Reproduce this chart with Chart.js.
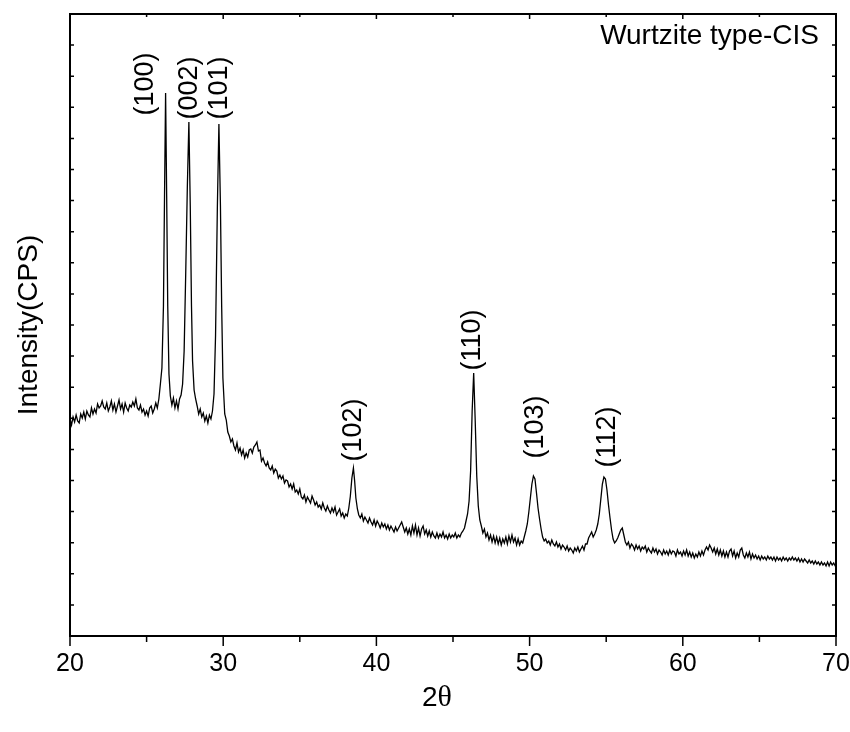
<!DOCTYPE html>
<html>
<head>
<meta charset="utf-8">
<title>Wurtzite type-CIS XRD</title>
<script src="https://cdn.jsdelivr.net/npm/chart.js@4.4.1/dist/chart.umd.min.js"></script>
<style>
	html, body { margin: 0; padding: 0; background: #fff; }
	canvas { display: block; }
</style>
</head>
<body>
<canvas id="chart" width="850" height="732"></canvas>
<script>
const sans = "'Liberation Sans', Arial, sans-serif";
const serif = "'Liberation Serif', 'Times New Roman', serif";

const xMajorTicks = [20, 30, 40, 50, 60, 70];
const xMinorTicks = [25, 35, 45, 55, 65];
const yMax = 622;
const yTickCount = 20;

const peakLabels = ["(100)", "(002)", "(101)", "(102)", "(110)", "(103)", "(112)"];
const peakLabelAngles = [24.95, 27.82, 29.78, 38.54, 46.25, 50.37, 55.07];
const peakLabelCounts = [552, 548, 548, 206, 296, 209, 199];

// [2theta, counts]
const scanLow = [
	[20.0,217],[20.1,211],[20.2,219],[20.3,214],[20.4,221],[20.5,215],[20.6,213],[20.7,222],[20.8,218],[20.9,224],
	[21.0,217],[21.1,225],[21.2,221],[21.3,219],[21.4,228],[21.5,222],[21.6,227],[21.7,223],[21.8,232],[21.9,228],
	[22.0,230],[22.1,235],[22.2,229],[22.3,227],[22.4,233],[22.5,225],[22.6,229],[22.7,235],[22.8,226],[22.9,232],
	[23.0,224],[23.1,230],[23.2,236],[23.3,227],[23.4,232],[23.5,224],[23.6,233],[23.7,228],[23.8,225],[23.9,231],
	[24.0,229],[24.1,234],[24.2,230],[24.3,237],[24.4,228],[24.5,226],[24.6,231],[24.7,224],[24.8,227],[24.9,221],
	[25.0,225],[25.1,220],[25.2,228],[25.3,230],[25.4,223],[25.5,227],[25.6,233],[25.7,228],[25.8,237],[25.9,252],
	[26.0,268],[26.1,330],[26.17,440],[26.24,543],[26.31,440],[26.38,330],[26.46,262],[26.55,240],[26.65,231],[26.75,238],
	[26.85,228],[26.95,235],[27.05,227],[27.15,237],[27.25,241],[27.35,252],[27.45,285],[27.55,360],[27.66,450],[27.76,514],
	[27.85,430],[27.93,330],[28.0,275],[28.1,246],[28.2,237],[28.3,230],[28.4,222],[28.5,227],[28.6,219],[28.7,223],
	[28.8,215],[28.9,220],[29.0,213],[29.1,221],[29.2,217],[29.3,225],[29.4,242],[29.5,300],[29.62,430],[29.72,512],
	[29.82,430],[29.9,330],[29.98,258],[30.1,222],[30.2,216],[30.3,204],[30.4,200],[30.5,194],[30.6,197],[30.7,190]
];

const scanMid = [
	[30.8,186],[30.9,193],[31.0,184],[31.1,188],[31.2,181],[31.3,186],[31.4,178],[31.5,183],[31.6,179],[31.7,186],
	[31.8,187],[31.9,183],[32.0,189],[32.1,191],[32.2,194],[32.3,185],[32.4,186],[32.5,175],[32.6,178],[32.7,173],
	[32.8,170],[32.9,174],[33.0,168],[33.1,166],[33.2,170],[33.3,163],[33.4,167],[33.5,165],[33.6,158],[33.7,161],
	[33.8,157],[33.9,160],[34.0,153],[34.1,156],[34.2,155],[34.3,149],[34.4,152],[34.5,147],[34.6,152],[34.7,144],
	[34.8,146],[34.9,142],[35.0,147],[35.1,139],[35.2,137],[35.3,141],[35.4,134],[35.5,139],[35.6,136],[35.7,133],
	[35.8,140],[35.9,136],[36.0,131],[36.1,134],[36.2,129],[36.3,131],[36.4,127],[36.5,133],[36.6,128],[36.7,125],
	[36.8,130],[36.9,126],[37.0,123],[37.1,128],[37.2,124],[37.3,129],[37.4,121],[37.5,124],[37.6,127],[37.7,120],
	[37.8,123],[37.9,118],[38.0,122],[38.1,120],[38.2,128],[38.3,140],[38.4,158],[38.5,168],[38.58,155],[38.66,138],
	[38.76,127],[38.85,121],[38.95,118],[39.05,122],[39.15,115],[39.25,119],[39.35,116],[39.45,113],[39.55,118],[39.65,114],
	[39.75,111],[39.85,116],[39.95,110],[40.05,115],[40.15,112],[40.25,108],[40.35,113],[40.45,109],[40.55,112],[40.65,107],
	[40.75,111],[40.85,106],[40.95,110],[41.05,107],[41.15,104],[41.25,109],[41.35,105],[41.45,108],[41.55,111],[41.65,114],
	[41.75,109],[41.85,104],[41.95,108],[42.05,102],[42.15,107],[42.25,101],[42.35,110],[42.45,103],[42.55,111],[42.65,101],
	[42.75,108],[42.85,100],[42.95,107],[43.05,110],[43.15,102],[43.25,106],[43.35,100],[43.45,105],[43.55,99],[43.65,104],
	[43.75,100],[43.85,98],[43.95,103],[44.05,98],[44.15,102],[44.25,99],[44.35,104],[44.45,98],[44.55,101],[44.65,97],
	[44.75,102],[44.85,98],[44.95,101],[45.05,99],[45.15,103],[45.25,98],[45.35,101],[45.45,99],[45.55,103],[45.65,105],
	[45.75,108],[45.85,115],[45.95,122],[46.05,135],[46.15,165],[46.25,225],[46.35,263],[46.45,215],[46.55,160],[46.65,130],
	[46.75,116],[46.85,110],[46.95,103],[47.05,107],[47.15,99],[47.25,103],[47.35,96],[47.45,101],[47.55,94],[47.65,100],
	[47.75,93],[47.85,99],[47.95,92],[48.05,98],[48.15,91],[48.25,97],[48.35,93],[48.45,99],[48.55,92],[48.65,100],
	[48.75,94],[48.85,101],[48.95,94],[49.05,98],[49.15,91],[49.25,97],[49.35,91],[49.45,95],[49.55,93],[49.65,99],
	[49.75,105],[49.85,112],[49.95,124],[50.05,138],[50.15,152],[50.25,160],[50.35,157],[50.45,143],[50.55,128],[50.65,117]
];

const scanHigh = [
	[50.75,107],[50.85,99],[50.95,95],[51.05,97],[51.15,93],[51.25,95],[51.35,91],[51.45,96],[51.55,92],[51.65,90],
	[51.75,94],[51.85,89],[51.95,92],[52.05,87],[52.15,91],[52.25,89],[52.35,86],[52.45,90],[52.55,85],[52.65,88],
	[52.75,86],[52.85,83],[52.95,88],[53.05,85],[53.15,89],[53.25,84],[53.35,87],[53.45,90],[53.55,86],[53.65,92],
	[53.75,92],[53.85,98],[53.95,101],[54.05,104],[54.15,99],[54.25,102],[54.35,106],[54.45,112],[54.55,122],[54.65,137],
	[54.75,152],[54.85,159],[54.95,157],[55.05,146],[55.15,131],[55.25,118],[55.35,106],[55.45,97],[55.55,93],[55.65,95],
	[55.75,98],[55.85,102],[55.95,106],[56.05,108],[56.15,101],[56.25,94],[56.35,91],[56.45,94],[56.55,88],[56.65,92],
	[56.75,90],[56.85,86],[56.95,91],[57.05,87],[57.15,90],[57.25,85],[57.35,89],[57.45,87],[57.55,90],[57.65,84],
	[57.75,88],[57.85,85],[57.95,83],[58.05,88],[58.15,84],[58.25,87],[58.35,82],[58.45,86],[58.55,84],[58.65,81],
	[58.75,86],[58.85,82],[58.95,85],[59.05,81],[59.15,86],[59.25,82],[59.35,85],[59.45,84],[59.55,80],[59.65,86],
	[59.75,82],[59.85,84],[59.95,80],[60.05,85],[60.15,81],[60.25,86],[60.35,80],[60.45,84],[60.55,79],[60.65,83],
	[60.75,78],[60.85,82],[60.95,79],[61.05,84],[61.15,80],[61.25,85],[61.35,81],[61.45,86],[61.55,89],[61.65,86],
	[61.75,91],[61.85,88],[61.95,84],[62.05,88],[62.15,82],[62.25,87],[62.35,81],[62.45,86],[62.55,80],[62.65,85],
	[62.75,79],[62.85,84],[62.95,79],[63.05,85],[63.15,87],[63.25,80],[63.35,85],[63.45,78],[63.55,83],[63.65,79],
	[63.75,86],[63.85,88],[63.95,81],[64.05,78],[64.15,83],[64.25,79],[64.35,84],[64.45,77],[64.55,82],[64.65,78],
	[64.75,81],[64.85,77],[64.95,80],[65.05,76],[65.15,80],[65.25,77],[65.35,79],[65.45,76],[65.55,80],[65.65,77],
	[65.75,79],[65.85,76],[65.95,79],[66.05,75],[66.15,79],[66.25,76],[66.35,78],[66.45,75],[66.55,79],[66.65,76],
	[66.75,78],[66.85,75],[66.95,78],[67.05,76],[67.15,79],[67.25,76],[67.35,78],[67.45,75],[67.55,78],[67.65,74],
	[67.75,77],[67.85,74],[67.95,77],[68.05,75],[68.15,73],[68.25,76],[68.35,73],[68.45,75],[68.55,72],[68.65,75],
	[68.75,72],[68.85,74],[68.95,71],[69.05,74],[69.15,71],[69.25,73],[69.35,70],[69.45,74],[69.55,70],[69.65,74],
	[69.75,71],[69.85,73],[69.95,70],[70.0,72]
];

const scan = scanLow.concat(scanMid, scanHigh).map(p => ({ x: p[0], y: p[1] }));

const decorations = {
	id: "decorations",
	afterDraw(chart) {
		const ctx = chart.ctx;
		const area = chart.chartArea;
		const xScale = chart.scales.x;
		const yScale = chart.scales.y;
		ctx.save();
		ctx.strokeStyle = "#000";
		ctx.fillStyle = "#000";

		// ticks
		ctx.lineWidth = 1.5;
		ctx.beginPath();
		for (const v of xMajorTicks) {
			const px = xScale.getPixelForValue(v);
			ctx.moveTo(px, area.bottom);
			ctx.lineTo(px, area.bottom + 10);
			ctx.moveTo(px, area.top);
			ctx.lineTo(px, area.top + 5);
		}
		for (const v of xMinorTicks) {
			const px = xScale.getPixelForValue(v);
			ctx.moveTo(px, area.bottom);
			ctx.lineTo(px, area.bottom + 6);
			ctx.moveTo(px, area.top);
			ctx.lineTo(px, area.top + 3);
		}
		for (let i = 1; i < yTickCount; i++) {
			const py = yScale.getPixelForValue(yMax * i / yTickCount);
			ctx.moveTo(area.left, py);
			ctx.lineTo(area.left + 4, py);
			ctx.moveTo(area.right, py);
			ctx.lineTo(area.right - 4, py);
		}
		ctx.stroke();

		// frame
		ctx.lineWidth = 2;
		ctx.strokeRect(area.left, area.top, area.right - area.left, area.bottom - area.top);

		// peak labels
		ctx.font = "27px " + sans;
		ctx.textAlign = "center";
		ctx.textBaseline = "middle";
		for (let i = 0; i < peakLabels.length; i++) {
			const px = xScale.getPixelForValue(peakLabelAngles[i]);
			const py = yScale.getPixelForValue(peakLabelCounts[i]);
			ctx.save();
			ctx.translate(px, py);
			ctx.rotate(-Math.PI / 2);
			ctx.fillText(peakLabels[i], 0, 0);
			ctx.restore();
		}

		// sample name
		ctx.font = "28px " + sans;
		ctx.textAlign = "right";
		ctx.fillText("Wurtzite type-CIS", area.right - 17, area.top + 22);

		// x axis title: 2θ
		const two = "2";
		const theta = "\u03b8";
		ctx.font = "28px " + sans;
		const w1 = ctx.measureText(two).width;
		ctx.font = "30px " + serif;
		const w2 = ctx.measureText(theta).width;
		const cx = (area.left + area.right) / 2 - 16;
		const ty = 698;
		ctx.textAlign = "left";
		ctx.font = "28px " + sans;
		ctx.fillText(two, cx - (w1 + w2) / 2, ty);
		ctx.font = "30px " + serif;
		ctx.fillText(theta, cx - (w1 + w2) / 2 + w1, ty);
		ctx.restore();
	}
};

const chart = new Chart(document.getElementById("chart").getContext("2d"), {
	type: "line",
	data: {
		datasets: [{
			data: scan,
			borderColor: "#000",
			borderWidth: 1.3,
			pointRadius: 0,
			tension: 0,
			fill: false
		}]
	},
	options: {
		responsive: false,
		animation: false,
		parsing: false,
		layout: {
			padding: { top: 14, right: 14, bottom: 0, left: 0 }
		},
		plugins: {
			legend: { display: false },
			tooltip: { enabled: false }
		},
		scales: {
			x: {
				type: "linear",
				min: 20,
				max: 70,
				afterBuildTicks: scale => {
					scale.ticks = xMajorTicks.map(v => ({ value: v }));
				},
				afterFit: scale => {
					scale.height = 96;
					scale.paddingLeft = 0;
					scale.paddingRight = 0;
				},
				grid: { display: false },
				border: { display: false },
				ticks: {
					color: "#000",
					padding: 5,
					maxRotation: 0,
					font: { family: sans, size: 25 }
				}
			},
			y: {
				type: "linear",
				min: 0,
				max: yMax,
				afterFit: scale => {
					scale.width = 70;
				},
				grid: { display: false },
				border: { display: false },
				ticks: { display: false },
				title: {
					display: true,
					text: "Intensity(CPS)",
					color: "#000",
					padding: { top: 12, bottom: 0 },
					font: { family: sans, size: 28 }
				}
			}
		}
	},
	plugins: [decorations]
});
</script>
</body>
</html>
